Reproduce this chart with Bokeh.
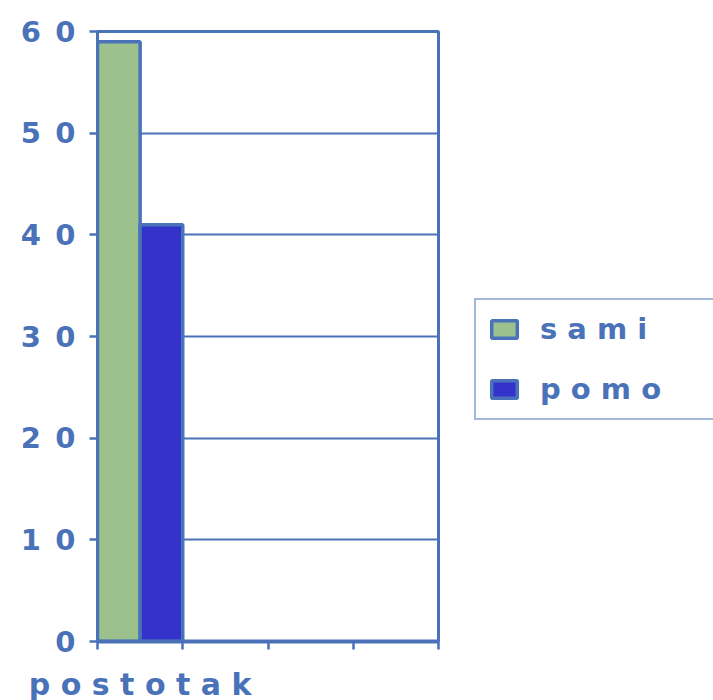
from bokeh.plotting import figure
from bokeh.models import FixedTicker, LinearAxis, Range1d, Legend, LegendItem, ColumnDataSource
from bokeh.embed import file_html
from bokeh.resources import INLINE

# ---- data ----
series = ["sami", "pomo"]
values = [59, 41]
series_colors = ["#9dc18c", "#3333cc"]
category = "postotak"
category_slots = [0, 1, 2, 3, 4]
y_ticks = [0, 10, 20, 30, 40, 50, 60]

BLUE = "#4a72b8"
FONT = "DejaVu Sans"


def spaced(s, sep):
    return sep.join(list(s))


p = figure(frame_width=341, frame_height=610,
           x_range=Range1d(category_slots[0], category_slots[-1]),
           y_range=Range1d(y_ticks[0], y_ticks[-1]),
           output_backend="svg", toolbar_location=None,
           min_border_left=97, min_border_top=31, min_border_right=267,
           min_border_bottom=10)
p.background_fill_color = "white"
p.border_fill_color = "white"
p.outline_line_color = BLUE
p.outline_line_width = 3

bar_w = 0.5
renderers = []
for i, (name, val, col) in enumerate(zip(series, values, series_colors)):
    src = ColumnDataSource(dict(x=[category_slots[0] + bar_w / 2 + i * bar_w], top=[val]))
    r = p.vbar(x="x", top="top", bottom=0, width=bar_w, source=src,
               fill_color=col, line_color=BLUE, line_width=3.5)
    renderers.append(r)

# grid
p.xgrid.grid_line_color = None
p.ygrid.ticker = FixedTicker(ticks=y_ticks)
p.ygrid.grid_line_color = BLUE
p.ygrid.grid_line_width = 2
p.ygrid.grid_line_alpha = 1

# y axis
ya = p.yaxis[0]
ya.ticker = FixedTicker(ticks=y_ticks)
ya.major_label_overrides = {t: spaced(str(t), "\u2002") for t in y_ticks}
ya.major_label_text_font = FONT
ya.major_label_text_font_style = "bold"
ya.major_label_text_font_size = "29px"
ya.major_label_text_color = BLUE
ya.major_label_standoff = 14
ya.axis_line_color = BLUE
ya.axis_line_width = 3
ya.major_tick_line_color = BLUE
ya.major_tick_line_width = 2.5
ya.major_tick_out = 8
ya.major_tick_in = 0
ya.minor_tick_line_color = None

# x axis (ticks only)
xa = p.xaxis[0]
xa.ticker = FixedTicker(ticks=category_slots)
xa.major_label_overrides = {t: "" for t in category_slots}
xa.major_label_text_font_size = "1px"
xa.major_label_standoff = 0
xa.axis_line_color = BLUE
xa.axis_line_width = 4
xa.major_tick_line_color = BLUE
xa.major_tick_line_width = 2.5
xa.major_tick_out = 8
xa.major_tick_in = 0
xa.minor_tick_line_color = None

# category label axis
xa2 = LinearAxis(ticker=FixedTicker(ticks=[0.5]),
                 major_label_overrides={0.5: spaced(category, " ")},
                 axis_line_color=None, major_tick_line_color=None,
                 minor_tick_line_color=None,
                 major_label_text_font=FONT, major_label_text_font_style="bold",
                 major_label_text_font_size="30px", major_label_text_color=BLUE,
                 major_label_standoff=11)
p.add_layout(xa2, "below")

legend = Legend(items=[LegendItem(label=spaced(s, " "), renderers=[r])
                       for s, r in zip(series, renderers)],
                location=(36, 221))
legend.border_line_color = BLUE
legend.border_line_width = 2.5
legend.background_fill_color = "white"
legend.background_fill_alpha = 1
legend.label_text_font = FONT
legend.label_text_font_style = "bold"
legend.label_text_font_size = "29px"
legend.label_text_color = BLUE
legend.glyph_width = 32
legend.glyph_height = 22
legend.label_standoff = 20
legend.label_height = 30
legend.label_width = 180
legend.spacing = 26
legend.padding = 12
legend.margin = 0
p.add_layout(legend, "right")

open("out.html", "w").write(file_html(p, INLINE))
